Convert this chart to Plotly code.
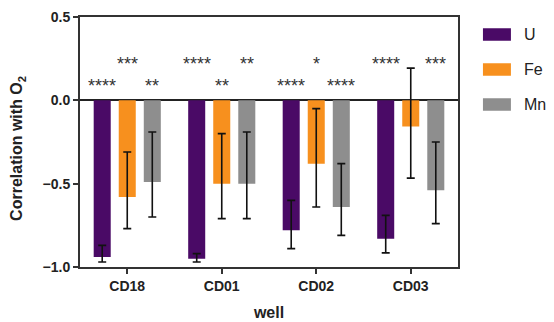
import plotly.graph_objects as go

wells = ["CD18", "CD01", "CD02", "CD03"]
series = ["U", "Fe", "Mn"]
colors = ["#4a0a66", "#f7901e", "#8e8e8e"]

u_vals = [-0.94, -0.95, -0.78, -0.83]
u_err_up = [0.07, 0.03, 0.18, 0.14]
u_err_down = [0.03, 0.02, 0.11, 0.085]
fe_vals = [-0.58, -0.50, -0.38, -0.157]
fe_err_up = [0.27, 0.30, 0.33, 0.35]
fe_err_down = [0.19, 0.21, 0.26, 0.31]
mn_vals = [-0.49, -0.50, -0.64, -0.54]
mn_err_up = [0.30, 0.31, 0.26, 0.29]
mn_err_down = [0.21, 0.21, 0.17, 0.20]

u_stars = ["****", "****", "****", "****"]
fe_stars = ["***", "**", "*", ""]
mn_stars = ["**", "**", "****", "***"]

values = [u_vals, fe_vals, mn_vals]
errors_up = [u_err_up, fe_err_up, mn_err_up]
errors_down = [u_err_down, fe_err_down, mn_err_down]
stars = [u_stars, fe_stars, mn_stars]

fig = go.Figure()
for name, vals, eu, ed, col in zip(series, values, errors_up, errors_down, colors):
    fig.add_trace(go.Bar(
        x=wells, y=vals, name=name, marker=dict(color=col, line=dict(width=0)),
        error_y=dict(type="data", symmetric=False, array=eu, arrayminus=ed, visible=True,
                     color="#111111", thickness=1.6, width=4),
        showlegend=False,
    ))

# significance stars (alternate heights as in reference)
offsets = [-25, 0, 25]
levels = [0.11, 0.24]
for si, (st, off) in enumerate(zip(stars, offsets)):
    for wi, w in enumerate(wells):
        if st[wi]:
            lvl = levels[(si + wi) % 2]
            fig.add_annotation(x=w, y=lvl, xref="x", yref="y", text=st[wi],
                               showarrow=False, xshift=off, yshift=-4,
                               font=dict(family="Liberation Sans", size=18, color="#333333"))

# legend drawn manually with larger swatches
for i, (name, col) in enumerate(zip(series, colors)):
    y0 = 0.955 - i * 0.14
    fig.add_shape(type="rect", xref="paper", yref="paper",
                  x0=1.066, x1=1.140, y0=y0 - 0.05, y1=y0,
                  fillcolor=col, line=dict(width=0))
    fig.add_annotation(xref="paper", yref="paper", x=1.170, y=y0 - 0.025,
                       text=name, showarrow=False, xanchor="left", yanchor="middle",
                       font=dict(family="Liberation Sans", size=16, color="#222222"))

# y axis title as rotated annotation
fig.add_annotation(xref="paper", yref="paper", x=-0.165, y=0.475, textangle=-90,
                   text="<b>Correlation with O<sub>2</sub></b>", showarrow=False,
                   xanchor="center", yanchor="middle",
                   font=dict(family="Liberation Sans", size=16, color="#222222"))

fig.update_layout(
    width=546, height=314,
    margin=dict(l=72, r=96, t=9, b=55, autoexpand=False),
    paper_bgcolor="white", plot_bgcolor="white",
    barmode="group", bargap=0.205, bargroupgap=0.32,
    font=dict(family="Liberation Sans", color="#222222"),
)
fig.update_xaxes(
    range=[-0.5, 3.5], showline=True, linecolor="#333333", linewidth=2, mirror=True,
    ticks="outside", ticklen=5, tickwidth=2, tickcolor="#333333",
    tickfont=dict(family="Liberation Sans", size=14, color="#222222", weight="bold"),
    title=dict(text="<b>well</b>", font=dict(size=16, color="#222222"), standoff=14),
    showgrid=False, automargin=False,
)
fig.update_yaxes(
    range=[-1.0, 0.5], tickvals=[-1.0, -0.5, 0.0, 0.5], tickformat=".1f",
    showline=True, linecolor="#333333", linewidth=2, mirror=True,
    ticks="outside", ticklen=5, tickwidth=2, tickcolor="#333333",
    tickfont=dict(family="Liberation Sans", size=14, color="#222222", weight="bold"),
    showgrid=False, zeroline=True, zerolinecolor="#222222", zerolinewidth=2, automargin=False,
)

fig.write_html("out.html")
